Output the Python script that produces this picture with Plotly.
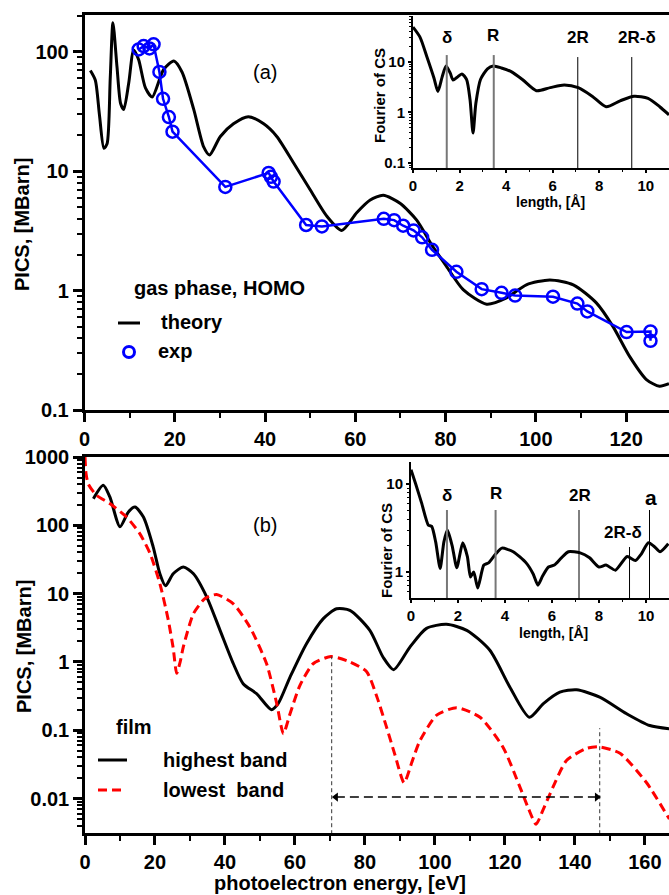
import plotly.graph_objects as go

W, H = 669, 895

# ---------------- data: panel (a), gas phase ----------------
E_theory = [1.3, 2.4, 3.3, 4.3, 5.0, 5.7, 6.3, 7.2, 8.0, 8.7, 9.8, 10.9, 12.0, 13.5, 15.0,
            17.5, 19.8, 21.6, 24.2, 26.4, 27.7, 30.1, 33.0, 36.3, 39.7, 42.6, 46.3, 50.0,
            53.7, 57.0, 60.3, 63.3, 66.2, 69.9, 73.6, 77.0, 80.2, 83.9, 89.1, 93.5, 97.9,
            103.1, 108.3, 113.4, 117.1, 120.8, 124.5, 127.4, 129.5]
S_theory = [70, 58, 30, 15.6, 17, 60, 176, 75, 37, 33, 55, 104, 86, 50, 42,
            71, 84, 68, 33, 16, 13.7, 19.6, 25, 28.7, 25, 19.6, 11.8, 7.0,
            4.2, 3.2, 4.5, 5.75, 6.3, 5.4, 3.9, 2.4, 1.6, 1.02, 0.77, 0.87, 1.12,
            1.23, 1.12, 0.79, 0.5, 0.28, 0.18, 0.158, 0.166]

E_exp = [12.0, 13.1, 14.4, 15.3, 16.6, 17.4, 18.7, 19.5, 31.2, 40.8, 41.3, 41.9, 49.1, 52.6,
         66.3, 68.6, 70.6, 72.9, 74.8, 77.0, 82.4, 88.0, 92.4, 95.4, 103.8, 109.2, 111.4,
         120.1, 125.4, 125.4]
S_exp = [105, 112, 107, 116, 68, 40.5, 28.5, 21.5, 7.4, 9.7, 9.0, 8.2, 3.55, 3.45,
         4.0, 3.9, 3.5, 3.2, 2.8, 2.2, 1.44, 1.03, 0.96, 0.91, 0.89, 0.78, 0.67,
         0.45, 0.455, 0.38]

# inset (a): Fourier transform of CS
L_a = [0, 0.3, 0.6, 0.9, 1.07, 1.25, 1.42, 1.6, 1.72, 1.9, 2.1, 2.3, 2.45, 2.58, 2.7, 2.9,
       3.2, 3.45, 3.8, 4.2, 4.7, 5.3, 5.9, 6.5, 7.1, 7.7, 8.3, 8.9, 9.5, 10.1, 10.6, 11.0]
F_a = [49, 31, 12.5, 4.8, 2.6, 5.0, 8.3, 6.0, 4.4, 5.0, 5.8, 4.5, 1.8, 0.39, 1.5, 4.5,
       7.3, 8.3, 7.6, 6.5, 4.5, 2.7, 3.1, 3.5, 3.1, 2.1, 1.3, 1.7, 2.1, 1.9, 1.3, 0.9]
marks_a = [1.45, 3.47, 7.08, 9.4]
marks_a_lbl = ["δ", "R", "2R", "2R-δ"]

# ---------------- data: panel (b), film ----------------
E_hi = [2.4, 5.2, 7.1, 10.0, 12.4, 14.3, 16.7, 19.5, 21.4, 23.0, 25.2, 28.1, 31.0, 34.8,
        38.6, 42.4, 45.2, 49.1, 53.3, 55.2, 58.6, 63.3, 68.1, 71.9, 75.7, 81.4, 85.2, 88.2,
        92.9, 97.6, 103.3, 109.1, 115.7, 121.4, 127.0, 131.0, 135.7, 140.5, 147.1, 154.8,
        161.4, 167.0]
S_hi = [245, 385, 260, 95, 157, 185, 132, 48, 19.5, 13, 19.5, 24.5, 19.5, 8.9,
        2.9, 0.94, 0.48, 0.34, 0.2, 0.245, 0.6, 1.85, 4.3, 6.0, 5.7, 2.9, 1.17, 0.77,
        1.66, 3.1, 3.55, 2.9, 1.48, 0.43, 0.155, 0.245, 0.36, 0.39, 0.305, 0.174,
        0.117, 0.105]

E_lo = [0, 0.3, 0.95, 3.3, 7.1, 11.9, 15.7, 18.6, 21.4, 23.8, 25.2, 26.2, 27.2, 28.1, 31.0,
        34.3, 37.6, 42.4, 47.1, 51.9, 54.8, 56.7, 58.6, 61.4, 65.2, 70.3, 75.7, 80.5, 83.5,
        86.2, 88.5, 91.2, 93.5, 95.7, 100.5, 106.2, 112.9, 119.5, 124.3, 126.8, 128.9,
        131.0, 132.9, 137.6, 143.3, 147.1, 152.9, 160.5, 167.0]
S_lo = [1000, 570, 400, 275, 208, 132, 75, 38.5, 14, 4.1, 1.6, 0.68, 1.0, 1.66, 5.1,
        8.5, 9.7, 7.1, 3.25, 0.94, 0.245, 0.089, 0.174, 0.45, 0.94, 1.2, 1.0, 0.72, 0.3,
        0.11, 0.045, 0.017, 0.035, 0.07, 0.166, 0.214, 0.155, 0.056, 0.0147, 0.007, 0.0042,
        0.007, 0.0117, 0.036, 0.054, 0.057, 0.046, 0.017, 0.005]

# period marks (vertical dashed lines + arrow)
E_mark = [70.5, 147.1]
S_mark_top = [1.2, 0.107]
S_floor = 0.003
E_arrow = [71.7, 146.3]
S_arrow = 0.0105

# inset (b)
L_b = [0, 0.2, 0.45, 0.74, 0.88, 1.05, 1.24, 1.4, 1.55, 1.75, 1.95, 2.2, 2.4, 2.53, 2.67, 2.84,
       3.1, 3.3, 3.6, 3.87, 4.35, 4.9, 5.2, 5.4, 5.6, 5.85, 6.1, 6.4, 6.7, 7.2, 7.6, 8.0, 8.3,
       8.7, 9.2, 9.55, 9.8, 10.1, 10.35, 10.6, 10.95]
F_b = [14.5, 10, 6.1, 3.4, 3.3, 2.2, 1.1, 2.2, 3.0, 2.0, 1.12, 2.15, 1.5, 0.88, 1.0, 0.66,
       1.2, 1.27, 1.6, 1.87, 1.7, 1.27, 0.95, 0.71, 0.9, 1.14, 1.2, 1.45, 1.7, 1.65, 1.45,
       1.14, 1.2, 1.05, 1.5, 1.35, 1.6, 2.15, 1.95, 1.7, 2.1]
marks_b = [1.53, 3.6, 7.15, 9.3, 10.15]
marks_b_lbl = ["δ", "R", "2R", "2R-δ", "a"]

FONT = "Liberation Sans, Arial, sans-serif"


def X(p):
    return p / W


def Y(p):
    return 1 - p / H


fig = go.Figure()

# panel (a)
fig.add_trace(go.Scatter(x=E_theory, y=S_theory, mode="lines", xaxis="x", yaxis="y",
                         line=dict(color="black", width=3, shape="spline", smoothing=0.7),
                         showlegend=False))
fig.add_trace(go.Scatter(x=E_exp, y=S_exp, mode="lines+markers", xaxis="x", yaxis="y",
                         line=dict(color="#0000ff", width=2.5),
                         marker=dict(symbol="circle-open", size=12, color="#0000ff",
                                     line=dict(width=2.5, color="#0000ff")),
                         showlegend=False))
# inset (a)
fig.add_trace(go.Scatter(x=L_a, y=F_a, mode="lines", xaxis="x2", yaxis="y2",
                         line=dict(color="black", width=3, shape="spline", smoothing=0.7),
                         showlegend=False))
# panel (b)
fig.add_trace(go.Scatter(x=E_hi, y=S_hi, mode="lines", xaxis="x3", yaxis="y3",
                         line=dict(color="black", width=3, shape="spline", smoothing=0.7),
                         showlegend=False))
fig.add_trace(go.Scatter(x=E_lo, y=S_lo, mode="lines", xaxis="x3", yaxis="y3",
                         line=dict(color="#ff0000", width=3, dash="9px,5px",
                                   shape="spline", smoothing=0.6),
                         showlegend=False))
for e, top in zip(E_mark, S_mark_top):
    fig.add_trace(go.Scatter(x=[e, e], y=[S_floor, top], mode="lines", xaxis="x3", yaxis="y3",
                             line=dict(color="#333333", width=1, dash="4px,3px"),
                             showlegend=False))
fig.add_trace(go.Scatter(x=E_arrow, y=[S_arrow, S_arrow], mode="lines", xaxis="x3", yaxis="y3",
                         line=dict(color="black", width=1.5, dash="9px,5px"), showlegend=False))
fig.add_trace(go.Scatter(x=E_arrow, y=[S_arrow, S_arrow], mode="markers", xaxis="x3", yaxis="y3",
                         marker=dict(symbol=["triangle-left", "triangle-right"], size=8,
                                     color="black"),
                         showlegend=False))
# inset (b)
fig.add_trace(go.Scatter(x=L_b, y=F_b, mode="lines", xaxis="x4", yaxis="y4",
                         line=dict(color="black", width=3, shape="spline", smoothing=0.6),
                         showlegend=False))


def minor_log(lo, hi):
    vals = []
    d = lo
    while d < hi:
        for k in range(2, 10):
            vals.append(k * d)
        d *= 10
    return vals


main_tick = dict(family=FONT, size=20, color="black", weight="bold")
inset_tick = dict(family=FONT, size=15, color="black", weight="bold")

common = dict(showgrid=False, zeroline=False, showline=True, linecolor="black",
              ticks="outside", tickcolor="black", automargin=False)

fig.update_layout(
    width=W, height=H, margin=dict(l=0, r=0, t=0, b=0, autoexpand=False),
    paper_bgcolor="white", plot_bgcolor="rgba(0,0,0,0)",
    xaxis=dict(domain=[X(84.5), 1], range=[0, 129.5], anchor="y",
               tickvals=[0, 20, 40, 60, 80, 100, 120], tickfont=main_tick,
               linewidth=2.5, ticklen=9, tickwidth=2.5, mirror=True,
               minor=dict(tickmode="linear", tick0=0, dtick=10, ticks="outside",
                          ticklen=5, tickwidth=2, tickcolor="black"), **common),
    yaxis=dict(domain=[Y(410), Y(15)], type="log", range=[-1, 2.31], anchor="x",
               tickvals=[0.1, 1, 10, 100], ticktext=["0.1", "1", "10", "100"],
               tickfont=main_tick, linewidth=2.5, ticklen=9, tickwidth=2.5,
               minor=dict(tickmode="array", tickvals=minor_log(0.1, 200), ticks="outside",
                          ticklen=5, tickwidth=1.5, tickcolor="black"), **common),
    xaxis2=dict(domain=[X(413), 1], range=[0, 11.0], anchor="y2",
                tickvals=[0, 2, 4, 6, 8, 10], tickfont=inset_tick,
                linewidth=2, ticklen=3, tickwidth=2,
                minor=dict(tickmode="linear", tick0=0, dtick=1, ticks="outside",
                           ticklen=2, tickwidth=1, tickcolor="black"), **common),
    yaxis2=dict(domain=[Y(168), Y(16)], type="log", range=[-1.1, 1.91], anchor="x2",
                tickvals=[0.1, 1, 10], ticktext=["0.1", "1", "10"], tickfont=inset_tick,
                linewidth=2, ticklen=3, tickwidth=2,
                minor=dict(tickmode="array", tickvals=minor_log(0.01, 80), ticks="outside",
                           ticklen=2, tickwidth=1, tickcolor="black"), **common),
    xaxis3=dict(domain=[X(85), 1], range=[0, 166.9], anchor="y3",
                tickvals=[0, 20, 40, 60, 80, 100, 120, 140, 160], tickfont=main_tick,
                linewidth=2.5, ticklen=9, tickwidth=2.5, mirror=True,
                minor=dict(tickmode="linear", tick0=0, dtick=10, ticks="outside",
                           ticklen=5, tickwidth=2, tickcolor="black"), **common),
    yaxis3=dict(domain=[Y(833), Y(457)], type="log", range=[-2.505, 3.0], anchor="x3",
                tickvals=[0.01, 0.1, 1, 10, 100, 1000],
                ticktext=["0.01", "0.1", "1", "10", "100", "1000"],
                tickfont=main_tick, linewidth=2.5, ticklen=9, tickwidth=2.5,
                minor=dict(tickmode="array", tickvals=minor_log(0.001, 1000), ticks="outside",
                           ticklen=5, tickwidth=1.5, tickcolor="black"), **common),
    xaxis4=dict(domain=[X(411), 1], range=[0, 10.98], anchor="y4",
                tickvals=[0, 2, 4, 6, 8, 10], tickfont=inset_tick,
                linewidth=2, ticklen=3, tickwidth=2,
                minor=dict(tickmode="linear", tick0=0, dtick=1, ticks="outside",
                           ticklen=2, tickwidth=1, tickcolor="black"), **common),
    yaxis4=dict(domain=[Y(598), Y(462)], type="log", range=[-0.295, 1.25], anchor="x4",
                tickvals=[1, 10], ticktext=["1", "10"], tickfont=inset_tick,
                linewidth=2, ticklen=3, tickwidth=2,
                minor=dict(tickmode="array", tickvals=minor_log(0.1, 18), ticks="outside",
                           ticklen=2, tickwidth=1, tickcolor="black"), **common),
)

shapes = []
# inset marker lines
tops_a = [0.743, 0.743, 0.73, 0.73]
for i, (m, t) in enumerate(zip(marks_a, tops_a)):
    gray = i < 2
    shapes.append(dict(type="line", xref="x2", yref="y2 domain", x0=m, x1=m, y0=0, y1=t,
                       line=dict(color="#777777" if gray else "black", width=2 if gray else 1)))
tops_b = [0.647, 0.647, 0.647, 0.375, 0.647]
for i, (m, t) in enumerate(zip(marks_b, tops_b)):
    gray = i < 2
    shapes.append(dict(type="line", xref="x4", yref="y4 domain", x0=m, x1=m, y0=0, y1=t,
                       line=dict(color="#777777" if gray else "black", width=2 if gray else 1)))
# legend samples
shapes.append(dict(type="line", xref="paper", yref="paper", x0=X(118), x1=X(140),
                   y0=Y(323), y1=Y(323), line=dict(color="black", width=3)))
shapes.append(dict(type="circle", xref="paper", yref="paper", x0=X(123.5), x1=X(134.5),
                   y0=Y(357.5), y1=Y(346.5), line=dict(color="#0000ff", width=3)))
shapes.append(dict(type="line", xref="paper", yref="paper", x0=X(98), x1=X(127),
                   y0=Y(760), y1=Y(760), line=dict(color="black", width=3)))
shapes.append(dict(type="line", xref="paper", yref="paper", x0=X(98), x1=X(122),
                   y0=Y(790), y1=Y(790), line=dict(color="#ff0000", width=3, dash="9px,5px")))
fig.update_layout(shapes=shapes)

ann = []


def txt(s, x, y, size, bold=True, xanchor="center", angle=0):
    ann.append(dict(text=("<b>%s</b>" % s) if bold else s, x=X(x), y=Y(y), xref="paper",
                    yref="paper", showarrow=False, xanchor=xanchor, yanchor="middle",
                    textangle=angle, borderpad=0,
                    font=dict(family=FONT, size=size, color="black")))


txt("(a)", 265, 72, 20, bold=False)
txt("(b)", 265, 525, 20, bold=False)
txt("gas phase, HOMO", 133, 288, 20, xanchor="left")
txt("theory", 160, 322, 20, xanchor="left")
txt("exp", 157, 351, 20, xanchor="left")
txt("film", 115, 727, 20, xanchor="left")
txt("highest band", 162, 760, 20, xanchor="left")
txt("lowest\u00a0\u00a0band", 162, 790, 20, xanchor="left")
txt("PICS, [MBarn]", 22, 225, 20, angle=-90)
txt("PICS, [MBarn]", 24, 647, 20, angle=-90)
txt("photoelectron energy, [eV]", 340, 883, 20)
txt("Fourier of CS", 379, 96, 15, angle=-90)
txt("Fourier of CS", 386, 551, 15, angle=-90)
txt("length, [Å]", 550, 202, 14)
txt("length, [Å]", 553, 633, 14)

pos_a = [(447, 38), (493, 36), (578, 38), (637, 38)]
for lbl, (x, y) in zip(marks_a_lbl, pos_a):
    txt(lbl, x, y, 17)
pos_b = [(447, 495), (496, 493), (580, 495), (623, 532), (651, 497)]
for lbl, (x, y) in zip(marks_b_lbl, pos_b):
    txt(lbl, x, y, 21 if lbl == "a" else 17)

fig.update_layout(annotations=ann)

fig.write_html(
    "out.html",
    config={"displayModeBar": False},
    post_script=("document.documentElement.style.margin='0';"
                 "document.body.style.margin='0';"
                 "document.body.style.overflow='hidden';"
                 "document.documentElement.style.overflow='hidden';"),
)
